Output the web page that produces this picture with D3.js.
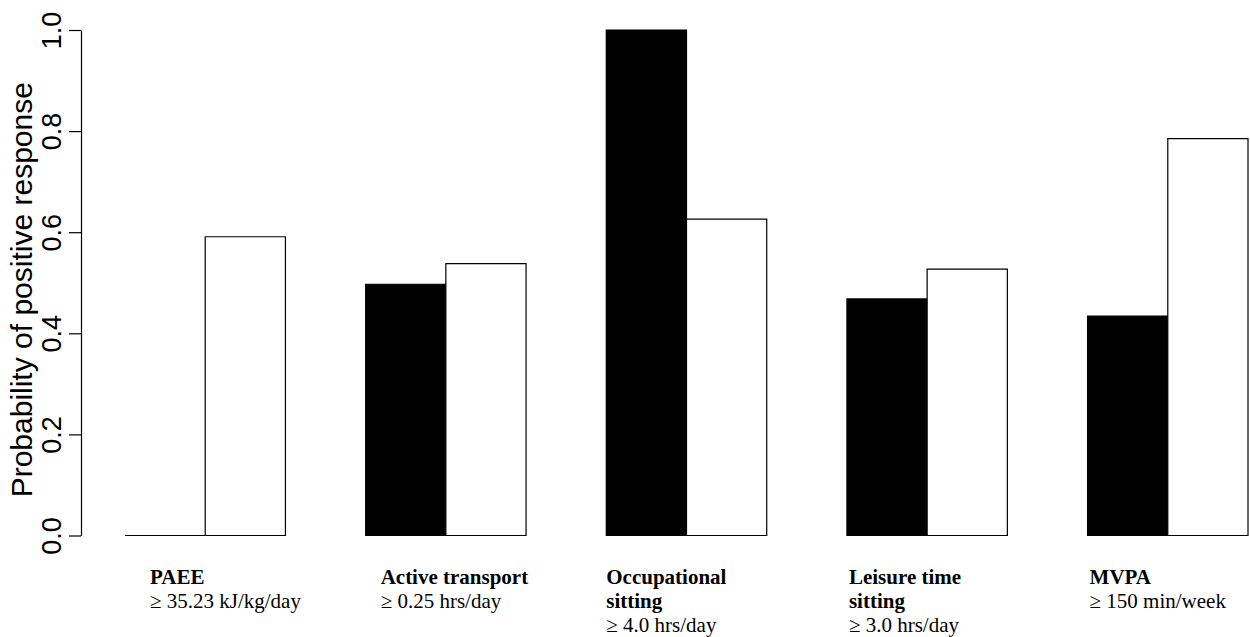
<!DOCTYPE html>
<html>
<head>
<meta charset="utf-8">
<script src="https://cdn.jsdelivr.net/npm/d3@7"></script>
<style>
  html, body { margin: 0; padding: 0; background: #fff; }
  svg { display: block; }
</style>
</head>
<body>
<svg id="chart" width="1250" height="637"></svg>
<script>
// Probability of a positive response, by activity measure
const categories = ["PAEE", "Active transport", "Occupational sitting", "Leisure time sitting", "MVPA"];
const seriesKeys = ["dark", "light"];
const darkValues  = [0.000, 0.497, 1.000, 0.468, 0.434];
const lightValues = [0.591, 0.538, 0.626, 0.527, 0.785];
const labelTitles = [["PAEE"], ["Active transport"], ["Occupational", "sitting"], ["Leisure time", "sitting"], ["MVPA"]];
const labelThresholds = ["\u2265 35.23 kJ/kg/day", "\u2265 0.25 hrs/day", "\u2265 4.0 hrs/day", "\u2265 3.0 hrs/day", "\u2265 150 min/week"];
const yTicks = [0, 0.2, 0.4, 0.6, 0.8, 1.0];
const yTitle = "Probability of positive response";

// layout
const labelShift = [25, 15, 0, 2, 2];
const fills = { dark: "#000", light: "#fff" };

const svg = d3.select("#chart");

const y = d3.scaleLinear().domain([0, 1]).range([535.5, 30]);

const x = d3.scaleBand()
  .domain(categories)
  .range([125, 1248])
  .paddingInner(1 / 3)
  .paddingOuter(0);

const xInner = d3.scaleBand()
  .domain(seriesKeys)
  .range([0, x.bandwidth()]);

const rows = categories.map((c, i) => ({ cat: c, dark: darkValues[i], light: lightValues[i] }));

// bars drawn as closed paths so a zero-height bar still shows its outline
function barPath(d) {
  const x0 = xInner(d.key), x1 = x0 + xInner.bandwidth();
  const y0 = y(0), y1 = y(d.value);
  const p = d3.path();
  p.moveTo(x0, y0);
  p.lineTo(x0, y1);
  p.lineTo(x1, y1);
  p.lineTo(x1, y0);
  p.closePath();
  return p.toString();
}

const groups = svg.append("g").selectAll("g")
  .data(rows)
  .join("g")
  .attr("transform", d => `translate(${x(d.cat)},0)`);

groups.selectAll("path")
  .data(d => seriesKeys.map(k => ({ key: k, value: d[k] })))
  .join("path")
  .attr("d", barPath)
  .attr("fill", d => fills[d.key])
  .attr("stroke", "#000")
  .attr("stroke-width", 1.2);

// y axis
const axis = svg.append("g")
  .attr("transform", "translate(81,0)")
  .call(d3.axisLeft(y).tickValues(yTicks).tickFormat(d3.format(".1f")).tickSize(12).tickSizeOuter(0));

axis.select(".domain").attr("stroke", "#000").attr("stroke-width", 1.2);
axis.selectAll(".tick line").attr("stroke", "#000").attr("stroke-width", 1.2);
axis.selectAll(".tick text")
  .attr("x", 0)
  .attr("dy", null)
  .attr("transform", "translate(-20,0) rotate(-90)")
  .attr("text-anchor", "middle")
  .attr("dominant-baseline", "auto")
  .attr("y", 0)
  .style("font-family", "'Liberation Sans', Arial, sans-serif")
  .style("font-size", "27px")
  .attr("fill", "#000");

svg.append("text")
  .attr("transform", `translate(32,${(y(0) + y(1)) / 2 + 7}) rotate(-90)`)
  .attr("text-anchor", "middle")
  .style("font-family", "'Liberation Sans', Arial, sans-serif")
  .style("font-size", "30px")
  .attr("fill", "#000")
  .text(yTitle);

// category labels under the bars
const labels = svg.append("g").selectAll("text")
  .data(categories)
  .join("text")
  .attr("x", (c, i) => x(c) + labelShift[i])
  .attr("y", 584)
  .style("font-family", "'Liberation Serif', 'Times New Roman', serif")
  .style("font-size", "21px")
  .attr("fill", "#000");

labels.each(function (c, i) {
  const t = d3.select(this);
  labelTitles[i].forEach((line, j) => {
    t.append("tspan")
      .attr("x", x(c) + labelShift[i])
      .attr("dy", j === 0 ? 0 : 24)
      .style("font-weight", "bold")
      .text(line);
  });
  t.append("tspan")
    .attr("x", x(c) + labelShift[i])
    .attr("dy", 24)
    .text(labelThresholds[i]);
});
</script>
</body>
</html>
